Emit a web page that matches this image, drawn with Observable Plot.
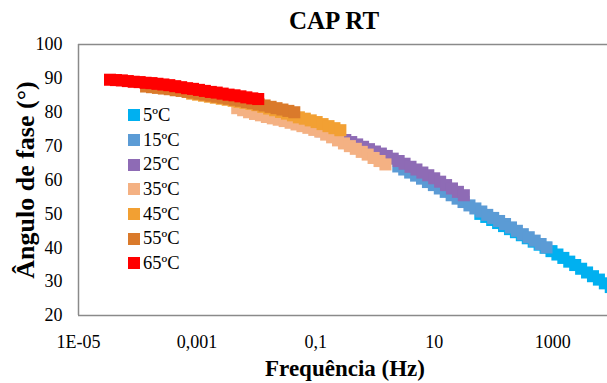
<!DOCTYPE html>
<html>
<head>
<meta charset="utf-8">
<script src="https://cdn.jsdelivr.net/npm/d3@7"></script>
<script src="https://cdn.jsdelivr.net/npm/@observablehq/plot@0.6"></script>
<style>
  html, body { margin: 0; padding: 0; background: #fff; }
  #wrap { position: relative; width: 607px; height: 383px; overflow: hidden; }
  #wrap svg, #wrap svg text { font-family: "Liberation Serif" !important; }
  #legend { position: absolute; left: 128px; top: 103px; font-family: "Liberation Serif"; font-size: 18.5px; color: #000; }
  #legend .row { display: flex; align-items: center; height: 24.7px; }
  #legend .sw { width: 12px; height: 12px; margin-right: 3px; }
</style>
</head>
<body>
<div id="wrap"></div>
<script>
// ---- data ----
const temps = ["5ºC", "15ºC", "25ºC", "35ºC", "45ºC", "55ºC", "65ºC"];
// test sweep frequencies (Hz) — shared by every temperature
const sweepFreqs = [0.1, 0.1259, 0.1585, 0.1995, 0.2512, 0.3162, 0.3981, 0.5012, 0.631, 0.7943,
  1, 1.259, 1.585, 1.995, 2.512, 3.162, 3.981, 5.012, 6.31, 7.943,
  10, 12.59, 15.85, 19.95, 25.12, 31.62];
// horizontal shift factors (reduced frequency = f * aT)
const shiftFactors = [600, 24.8, 1.0, 0.0476, 0.00826, 0.00138, 0.00034];
// phase angle (°)
const phase5  = [50.0,49.1,48.2,47.3,46.4,45.5,44.6,43.7,42.8,41.8,40.9,40.0,39.0,38.0,37.0,35.9,34.9,33.8,32.7,31.6,30.6,29.5,28.4,27.3,26.2,25.1];
const phase15 = [64.0,63.1,62.2,61.3,60.4,59.4,58.5,57.5,56.5,55.5,54.5,53.5,52.5,51.6,50.7,49.7,48.8,47.9,47.0,46.0,45.0,44.0,43.1,42.1,41.1,40.1];
const phase25 = [75.0,74.4,73.7,73.1,72.5,71.8,71.2,70.5,69.8,69.1,68.4,67.8,67.1,66.3,65.6,64.8,63.9,63.1,62.2,61.4,60.5,59.5,58.5,57.5,56.5,55.5];
const phase35 = [81.2,80.6,80.0,79.5,79.1,78.6,78.2,77.8,77.4,76.9,76.4,75.9,75.4,74.8,74.3,73.4,72.6,71.7,70.8,70.0,69.2,68.3,67.5,66.5,65.6,64.6];
const phase45 = [85.5,85.2,84.9,84.6,84.3,84.0,83.7,83.4,83.1,82.8,82.5,82.1,81.6,81.1,80.6,80.1,79.6,79.1,78.5,78.1,77.6,77.1,76.5,75.9,75.3,74.7];
const phase55 = [87.6,87.4,87.2,87.0,86.8,86.5,86.3,86.0,85.8,85.5,85.2,84.9,84.6,84.3,84.0,83.7,83.4,83.0,82.7,82.3,82.0,81.6,81.2,80.8,80.4,80.0];
const phase65 = [89.6,89.5,89.4,89.2,89.0,88.9,88.7,88.6,88.4,88.2,88.0,87.7,87.4,87.1,86.9,86.6,86.3,86.0,85.8,85.5,85.2,85.0,84.7,84.4,84.1,83.9];
const phases = [phase5, phase15, phase25, phase35, phase45, phase55, phase65];

const xTicks = [1e-5, 1e-3, 0.1, 10, 1000];
const xTickLabels = ["1E-05", "0,001", "0,1", "10", "1000"];
const yTicks = [20, 30, 40, 50, 60, 70, 80, 90, 100];

// ---- styles ----
const colors = ["#00B0F0", "#5B9BD5", "#8E6BB5", "#F4B183", "#F2A033", "#DA7A2B", "#FF0000"];
const serif = '"Liberation Serif"';

const rows = [];
temps.forEach((t, k) => {
  sweepFreqs.forEach((f, i) => {
    rows.push({temp: t, freq: f * shiftFactors[k], phase: phases[k][i]});
  });
});

const chart = Plot.plot({
  width: 607,
  height: 383,
  marginLeft: 78,
  marginRight: 0,
  marginTop: 44,
  marginBottom: 68,
  style: {fontFamily: serif, background: "#fff", color: "#000"},
  x: {type: "log", domain: [1e-5, 8375]},
  y: {domain: [20, 100]},
  color: {domain: temps, range: colors},
  marks: [
    Plot.dot(rows, {x: "freq", y: "phase", fill: "temp", symbol: "square", r: 6.8, stroke: "none", clip: true}),
    Plot.ruleY([20, 100], {stroke: "#8a8a8a", strokeWidth: 1.5}),
    Plot.ruleX([1e-5], {stroke: "#8a8a8a", strokeWidth: 1.5}),
    Plot.axisX({ticks: xTicks, tickFormat: (d) => xTickLabels[xTicks.indexOf(d)], tickSize: 0, tickPadding: 20, fontSize: 18, fontFamily: serif, label: null}),
    Plot.axisY({ticks: yTicks, tickSize: 0, tickPadding: 16, fontSize: 18, fontFamily: serif, label: null}),
    Plot.text(["CAP RT"], {text: d => d, frameAnchor: "top", dx: -9, dy: -24, lineAnchor: "middle", fontSize: 25, fontWeight: "bold", fontFamily: serif}),
    Plot.text(["Frequência (Hz)"], {text: d => d, frameAnchor: "bottom", dx: 2, dy: 53, lineAnchor: "middle", fontSize: 23, fontWeight: "bold", fontFamily: serif}),
    Plot.text(["Ângulo de fase (°)"], {text: d => d, frameAnchor: "left", dx: -53, rotate: -90, textAnchor: "middle", lineAnchor: "middle", fontSize: 26, fontWeight: "bold", fontFamily: serif})
  ]
});
const wrap = document.getElementById("wrap");
wrap.appendChild(chart);

const legend = document.createElement("div");
legend.id = "legend";
temps.forEach((t, k) => {
  const row = document.createElement("div");
  row.className = "row";
  const sw = document.createElement("div");
  sw.className = "sw";
  sw.style.background = colors[k];
  const lab = document.createElement("span");
  lab.textContent = t;
  row.appendChild(sw);
  row.appendChild(lab);
  legend.appendChild(row);
});
wrap.appendChild(legend);
</script>
</body>
</html>
